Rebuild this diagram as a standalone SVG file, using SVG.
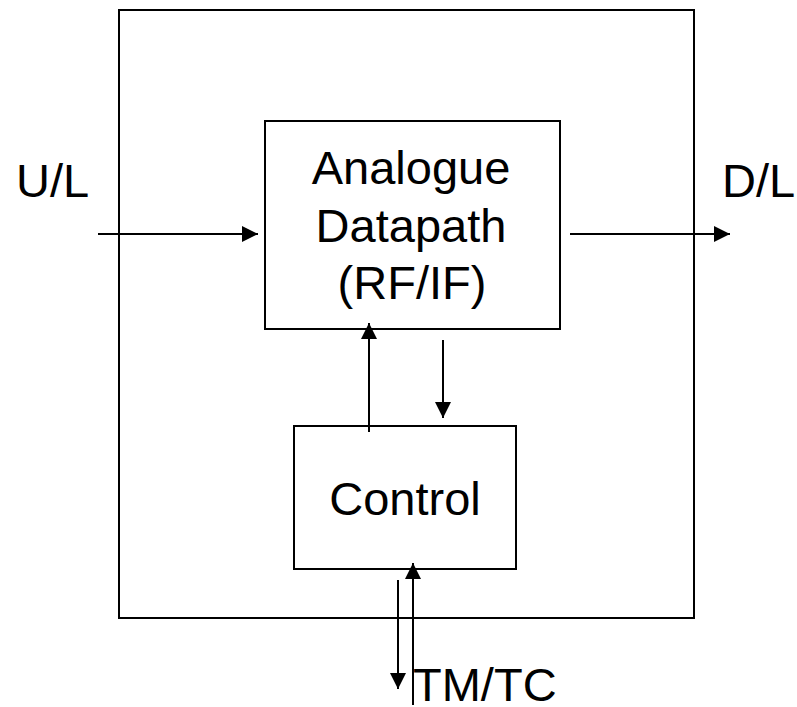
<svg xmlns="http://www.w3.org/2000/svg" width="797" height="707" viewBox="0 0 797 707">
  <style>
    .box { fill: #fff; stroke: #000; stroke-width: 2; }
    .lbl { font-family: "Liberation Sans", Arial, sans-serif; font-size: 47px; fill: #000; }
    .mid { text-anchor: middle; }
    .wire { stroke: #000; stroke-width: 2; fill: none; }
  </style>
  <defs>
    <marker id="head" viewBox="0 0 16 16" refX="16" refY="8" markerWidth="16" markerHeight="16" markerUnits="userSpaceOnUse" orient="auto">
      <path d="M0,0 L16,8 L0,16 Z" fill="#000"/>
    </marker>
  </defs>

  <rect width="797" height="707" fill="#fff"/>

  <!-- enclosing unit -->
  <g id="unit">
    <rect class="box" x="119" y="10" width="575" height="608"/>
  </g>

  <g id="analogue">
    <rect class="box" x="265" y="121" width="295" height="208"/>
    <text class="lbl mid" x="411" y="184">Analogue</text>
    <text class="lbl mid" x="411" y="242">Datapath</text>
    <text class="lbl mid" x="412" y="299">(RF/IF)</text>
  </g>

  <g id="control">
    <rect class="box" x="294" y="426" width="222" height="143"/>
    <text class="lbl mid" x="405" y="515">Control</text>
  </g>

  <g id="ports">
    <text class="lbl" x="16" y="197">U/L</text>
    <text class="lbl" x="722" y="197">D/L</text>
    <text class="lbl" x="413" y="701">TM/TC</text>
  </g>

  <g id="connectors">
    <line class="wire" x1="98" y1="234" x2="258" y2="234" marker-end="url(#head)"/>
    <line class="wire" x1="570" y1="234" x2="730" y2="234" marker-end="url(#head)"/>
    <line class="wire" x1="369" y1="432" x2="369" y2="323" marker-end="url(#head)"/>
    <line class="wire" x1="443" y1="340" x2="443" y2="418" marker-end="url(#head)"/>
    <line class="wire" x1="398" y1="580" x2="398" y2="689" marker-end="url(#head)"/>
    <line class="wire" x1="413" y1="705" x2="413" y2="563" marker-end="url(#head)"/>
  </g>
</svg>
